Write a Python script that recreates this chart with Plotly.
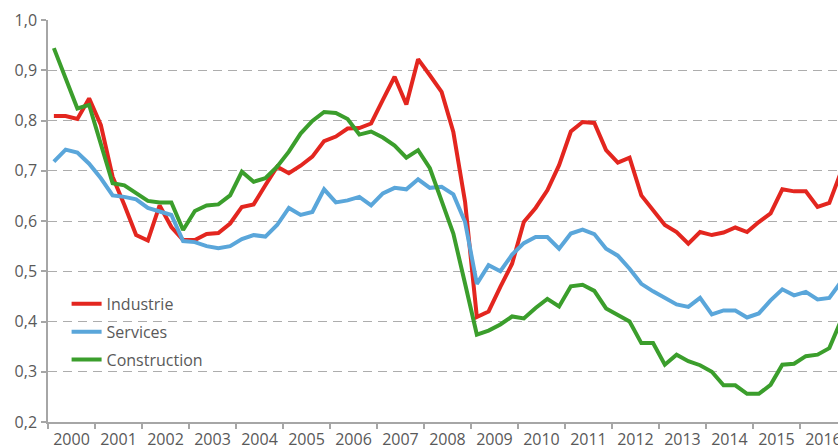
import plotly.graph_objects as go

# Quarterly periods 2000Q1 .. 2016Q4
years = list(range(2000, 2017))
quarters = [(y, q) for y in years for q in range(4)]

industrie = [0.809, 0.809, 0.803, 0.844, 0.791, 0.688, 0.632, 0.572, 0.561, 0.631,
             0.588, 0.562, 0.562, 0.574, 0.576, 0.595, 0.628, 0.633, 0.671, 0.708,
             0.695, 0.710, 0.728, 0.759, 0.768, 0.784, 0.785, 0.794, 0.841, 0.887,
             0.832, 0.922, 0.890, 0.857, 0.777, 0.638, 0.409, 0.420, 0.469, 0.515,
             0.598, 0.626, 0.661, 0.711, 0.778, 0.797, 0.795, 0.741, 0.716, 0.726,
             0.651, 0.621, 0.592, 0.578, 0.555, 0.578, 0.572, 0.577, 0.587, 0.578,
             0.598, 0.615, 0.663, 0.659, 0.659, 0.628, 0.636, 0.698]

services = [0.718, 0.742, 0.736, 0.714, 0.685, 0.651, 0.648, 0.643, 0.626, 0.620,
            0.612, 0.560, 0.558, 0.550, 0.546, 0.550, 0.564, 0.572, 0.569, 0.592,
            0.626, 0.612, 0.618, 0.663, 0.637, 0.641, 0.648, 0.631, 0.655, 0.666,
            0.663, 0.683, 0.666, 0.668, 0.653, 0.598, 0.475, 0.512, 0.500, 0.533,
            0.556, 0.568, 0.568, 0.545, 0.575, 0.583, 0.574, 0.545, 0.531, 0.505,
            0.475, 0.460, 0.446, 0.434, 0.429, 0.447, 0.414, 0.422, 0.422, 0.408,
            0.416, 0.442, 0.464, 0.452, 0.459, 0.444, 0.447, 0.479]

construction = [0.944, 0.886, 0.824, 0.831, 0.751, 0.675, 0.671, 0.655, 0.640, 0.637,
                0.637, 0.582, 0.620, 0.631, 0.633, 0.651, 0.698, 0.678, 0.685, 0.708,
                0.738, 0.774, 0.799, 0.817, 0.815, 0.803, 0.772, 0.778, 0.766, 0.750,
                0.726, 0.741, 0.705, 0.640, 0.575, 0.475, 0.374, 0.382, 0.394, 0.410,
                0.406, 0.427, 0.445, 0.430, 0.470, 0.473, 0.461, 0.426, 0.412, 0.400,
                0.357, 0.357, 0.314, 0.334, 0.321, 0.313, 0.300, 0.273, 0.273, 0.256,
                0.256, 0.274, 0.314, 0.316, 0.331, 0.334, 0.347, 0.402]

series_names = ["Industrie", "Services", "Construction"]
series_colors = ["#E3261F", "#5AA6DA", "#3B9E2C"]
y_ticks = [0.2, 0.3, 0.4, 0.5, 0.6, 0.7, 0.8, 0.9, 1.0]

# x position of each quarter: middle of the quarter, in years
x = [y + (q + 0.5) / 4 for (y, q) in quarters]

fig = go.Figure()
for name, vals, col in zip(series_names, [industrie, services, construction], series_colors):
    fig.add_trace(go.Scatter(x=x, y=vals, mode="lines", name=name,
                             legendgroup=name,
                             line=dict(color=col, width=4)))

font_fam = "Open Sans, Noto Sans, sans-serif"
grey_txt = "#595959"

# The figure is slightly wider than the window: like the reference, its right
# edge (and the 2016 label) is cut off by the window border.
fig.update_layout(
    width=846, height=447,
    margin=dict(l=48, r=0, t=20, b=25),
    paper_bgcolor="white", plot_bgcolor="white",
    separators=", ",
    font=dict(family=font_fam, size=16, color=grey_txt),
    showlegend=True,
    legend=dict(x=0.0233, y=0.336, xanchor="left", yanchor="top",
                bgcolor="rgba(0,0,0,0)", font=dict(size=16, color=grey_txt),
                traceorder="grouped", tracegroupgap=4, itemwidth=30),
    xaxis=dict(
        range=[2000, 2016.98],
        tickvals=[y + 0.5 for y in years],
        ticktext=[str(y) for y in years],
        ticks="", showgrid=False, zeroline=False,
        showline=True, linecolor="#A6A6A6", linewidth=1.5,
        tickfont=dict(size=16, color=grey_txt),
        ticklabelstandoff=2,
        minor=dict(tickvals=years, ticks="outside", ticklen=5,
                   tickcolor="#A6A6A6", tickwidth=1.5, showgrid=False),
        automargin=False,
        fixedrange=True,
    ),
    yaxis=dict(
        range=[0.2, 1.0],
        tickvals=y_ticks, tickformat=".1f",
        ticks="outside", ticklen=5, tickcolor="#A6A6A6", tickwidth=1.5,
        showline=True, linecolor="#A6A6A6", linewidth=1.5,
        showgrid=True, gridcolor="#ADADAD", gridwidth=1.3, griddash="9px,6px",
        zeroline=False,
        tickfont=dict(size=16, color=grey_txt),
        ticklabelstandoff=1,
        automargin=False,
        fixedrange=True,
    ),
)

fig.write_html(
    "out.html",
    config={"displayModeBar": False},
    post_script="document.body.style.margin='0';document.body.style.overflow='hidden';",
)
